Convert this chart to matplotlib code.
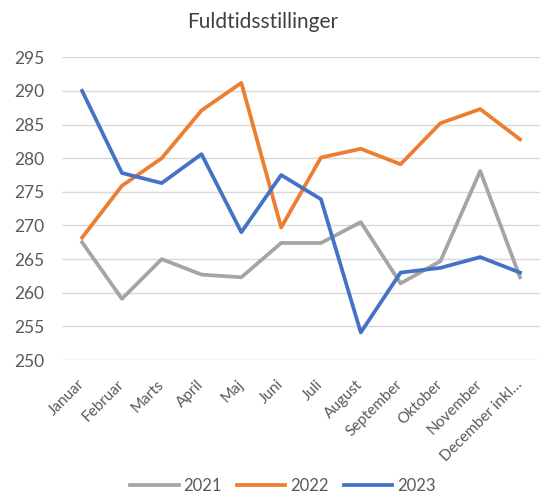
import numpy as np
import matplotlib
matplotlib.use("Agg")
import matplotlib.pyplot as plt

plt.rcParams['font.family'] = ['Lato', 'DejaVu Sans']

# months (last label is cut off in the original)
months = ["Januar", "Februar", "Marts", "April", "Maj", "Juni", "Juli",
          "August", "September", "Oktober", "November", "December inkl…"]

y2021 = [267.5, 259.1, 265.0, 262.7, 262.3, 267.4, 267.4, 270.5, 261.4, 264.7, 278.1, 262.3]
y2022 = [268.2, 275.9, 280.0, 287.1, 291.2, 269.7, 280.1, 281.4, 279.1, 285.2, 287.3, 282.8]
y2023 = [290.0, 277.8, 276.3, 280.6, 269.0, 277.5, 273.9, 254.1, 263.0, 263.7, 265.3, 263.0]

yticks = np.arange(250, 296, 5)

fig = plt.figure(figsize=(5.41, 4.98), dpi=100)
ax = fig.add_axes([0.115, 0.277, 0.883, 0.608])

x = np.arange(len(months))
ax.plot(x, y2021, color="#A5A5A5", lw=2.7, label="2021", solid_joinstyle="round")
ax.plot(x, y2022, color="#ED7D31", lw=2.7, label="2022", solid_joinstyle="round")
ax.plot(x, y2023, color="#4472C4", lw=2.7, label="2023", solid_joinstyle="round")

ax.set_xlim(-0.5, len(months) - 0.5)
ax.set_ylim(250, 295)
ax.set_yticks(yticks)
ax.set_xticks(x)
ax.set_xticklabels(months, rotation=45, ha="right", va="center", rotation_mode="anchor")
ax.tick_params(length=0, colors="#595959")
ax.tick_params(axis="y", pad=13, labelsize=12.5)
ax.tick_params(axis="x", pad=16, labelsize=11)
ax.grid(axis="y", color="#D9D9D9", lw=1)
ax.set_axisbelow(True)
for s in ax.spines.values():
    s.set_visible(False)

fig.text(0.485, 0.955, "Fuldtidsstillinger", ha="center", va="center",
         fontsize=15, color="#404040")

fig.legend(loc="center", bbox_to_anchor=(0.523, 0.024), ncol=3, frameon=False,
           fontsize=12, handlelength=2.9, columnspacing=0.9, handletextpad=0.3,
           labelcolor="#595959")

fig.savefig("out.png", dpi=100, facecolor="white")
